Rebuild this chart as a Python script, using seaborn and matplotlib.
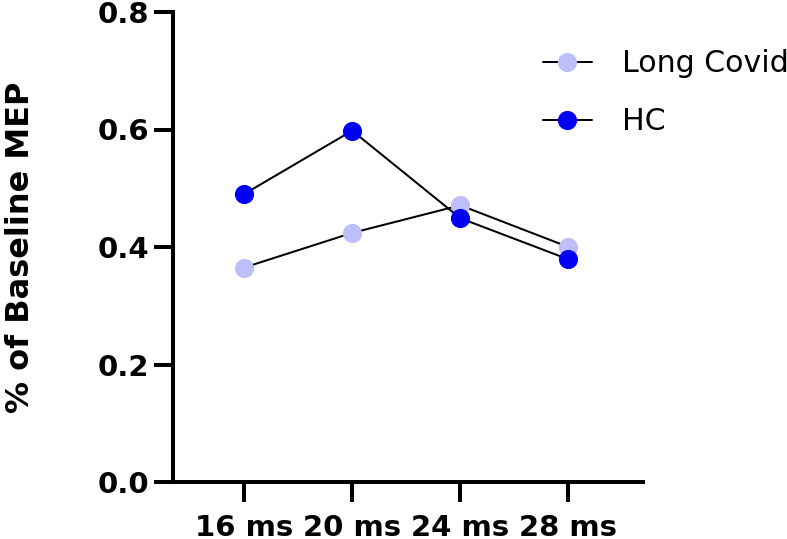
import matplotlib
matplotlib.use("Agg")
import matplotlib.pyplot as plt
import seaborn as sns
import pandas as pd

# ---- data ----
delays = ["16 ms", "20 ms", "24 ms", "28 ms"]
long_covid = [0.365, 0.424, 0.471, 0.400]
hc = [0.490, 0.598, 0.449, 0.379]
groups = ["Long Covid", "HC"]
group_colors = ["#BEBEF8", "#0000F5"]
y_ticks = [0.0, 0.2, 0.4, 0.6, 0.8]
y_label = "% of Baseline MEP"

sns.set_style("ticks")
plt.rcParams["font.family"] = ["DejaVu Sans"]
plt.rcParams["text.color"] = "black"
plt.rcParams["axes.labelcolor"] = "black"
plt.rcParams["xtick.color"] = "black"
plt.rcParams["ytick.color"] = "black"

fig = plt.figure(figsize=(7.87, 5.39), dpi=100)
W, H = 787, 539
ax = fig.add_axes([172.7 / W, 1 - 482 / H, (643 - 172.7) / W, (482 - 12) / H])

series = [long_covid, hc]
for name, vals, col in zip(groups, series, group_colors):
    df = pd.DataFrame({"delay": delays, "value": vals})
    sns.lineplot(data=df, x="delay", y="value", ax=ax, color="black",
                 linewidth=1.45, marker="o", markersize=13.8,
                 markerfacecolor=col, markeredgecolor=col, markeredgewidth=0,
                 label=name)

ax.set_xlim(-0.66, 3.69)
ax.set_ylim(0, 0.8)
ax.set_yticks(y_ticks)
ax.set_yticklabels([f"{v:.1f}" for v in y_ticks])
ax.set_xlabel("")
ax.set_ylabel(y_label, fontsize=23, fontweight="bold", color="black")
ax.yaxis.set_label_coords(-0.29, 0.5)

for s in ["top", "right"]:
    ax.spines[s].set_visible(False)
for s in ["left", "bottom"]:
    ax.spines[s].set_linewidth(2.9)
    ax.spines[s].set_color("black")
    ax.spines[s].set_capstyle("projecting")

ax.tick_params(axis="y", length=13.7, width=2.9, pad=3, labelsize=21, colors="black")
ax.tick_params(axis="x", length=14.4, width=2.9, pad=9, labelsize=21, colors="black")
for lab in ax.get_xticklabels() + ax.get_yticklabels():
    lab.set_fontweight("bold")

leg = ax.legend(loc="upper left", bbox_to_anchor=(543 / W, 1 - 49 / H),
                bbox_transform=fig.transFigure, frameon=False,
                borderpad=0, borderaxespad=0, handlelength=1.63,
                handletextpad=1.0, labelspacing=0.97,
                prop={"family": "DejaVu Sans", "size": 21.6})
for t in leg.get_texts():
    t.set_color("black")

fig.savefig("out.png", dpi=100)
